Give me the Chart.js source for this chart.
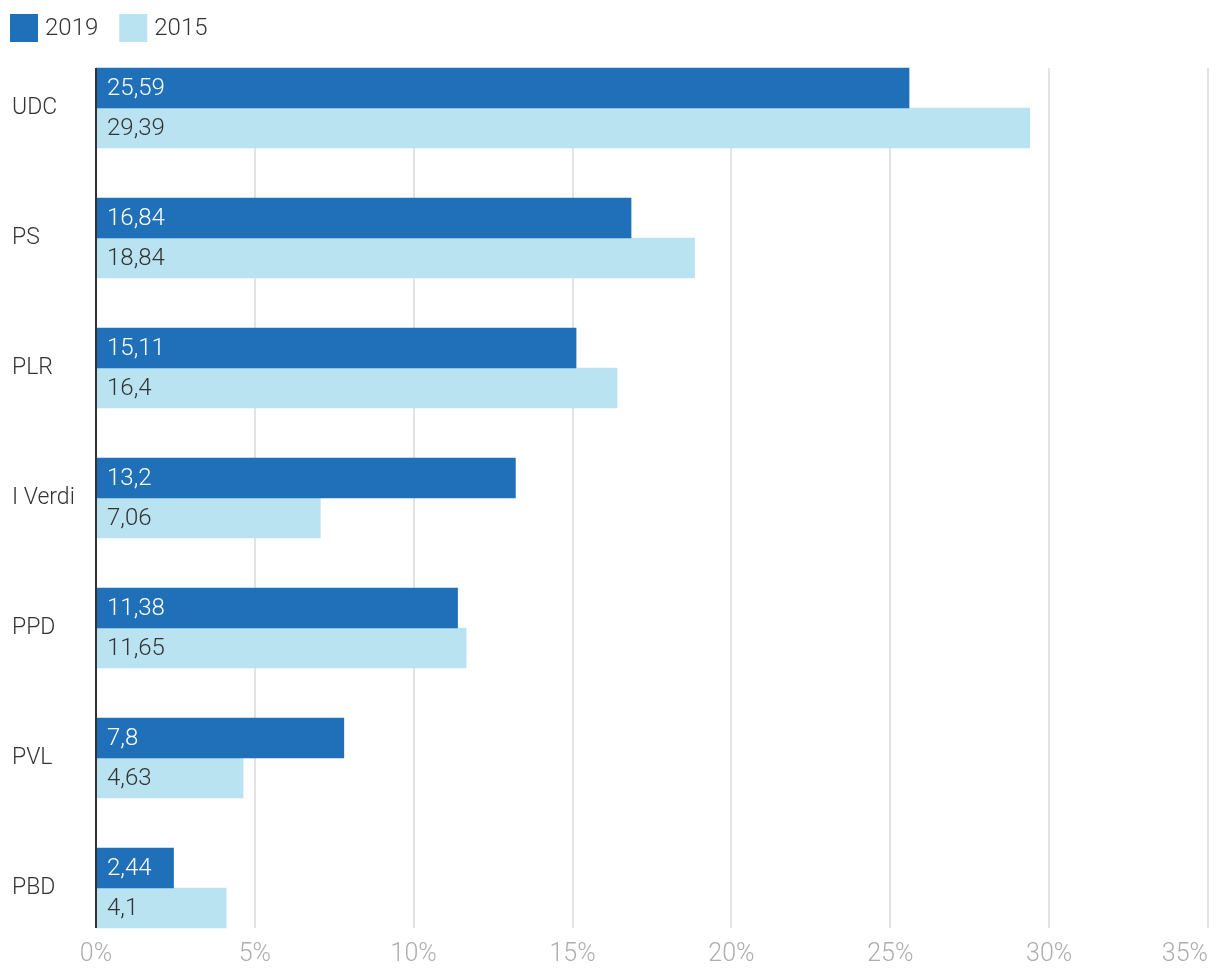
<!DOCTYPE html>
<html><head><meta charset="utf-8">
<script src="https://cdn.jsdelivr.net/npm/chart.js@4"></script>
<style>html,body{margin:0;padding:0;background:#fff;overflow:hidden;}</style>
</head><body>
<canvas id="c" width="1220" height="978"></canvas>
<script>
const categories = ['UDC', 'PS', 'PLR', 'I Verdi', 'PPD', 'PVL', 'PBD'];
const seriesNames = ['2019', '2015'];
const values2019 = [25.59, 16.84, 15.11, 13.2, 11.38, 7.8, 2.44];
const values2015 = [29.39, 18.84, 16.4, 7.06, 11.65, 4.63, 4.1];
const xTicks = [0, 5, 10, 15, 20, 25, 30, 35];
const xTickLabels = ['0%', '5%', '10%', '15%', '20%', '25%', '30%', '35%'];

const FONT = 'Roboto';
const DARK = '#1F70B8';
const LIGHT = '#BAE3F1';

const decor = {
  id: 'decor',
  beforeDatasetsDraw(chart) {
    const ctx = chart.ctx, xs = chart.scales.x, ys = chart.scales.y;
    const top = ys.getPixelForValue(0) - 40;
    const bottom = ys.getPixelForValue(categories.length - 1) + 40;
    ctx.save();
    ctx.strokeStyle = '#E3E3E3';
    ctx.lineWidth = 2;
    xTicks.forEach(v => {
      if (v === 0) return;
      const x = Math.round(xs.getPixelForValue(v));
      ctx.beginPath(); ctx.moveTo(x, top); ctx.lineTo(x, bottom); ctx.stroke();
    });
    ctx.restore();
  },
  afterDatasetsDraw(chart) {
    const ctx = chart.ctx, xs = chart.scales.x, ys = chart.scales.y;
    const top = ys.getPixelForValue(0) - 40;
    const bottom = ys.getPixelForValue(categories.length - 1) + 40;
    ctx.save();
    // data labels
    ctx.font = '300 24px ' + FONT;
    ctx.textBaseline = 'middle';
    ctx.textAlign = 'left';
    chart.data.datasets.forEach((ds, di) => {
      const meta = chart.getDatasetMeta(di);
      meta.data.forEach((bar, i) => {
        ctx.fillStyle = di === 0 ? '#FFFFFF' : '#333333';
        ctx.fillText(String(ds.data[i]).replace('.', ','), bar.base + 11, bar.y + 1);
      });
    });
    // y axis line
    ctx.strokeStyle = '#333333';
    ctx.lineWidth = 2;
    const x0 = Math.round(xs.getPixelForValue(0));
    ctx.beginPath(); ctx.moveTo(x0, top); ctx.lineTo(x0, bottom); ctx.stroke();
    // x tick labels
    ctx.font = '300 25px ' + FONT;
    ctx.fillStyle = '#AEAEAE';
    ctx.textBaseline = 'middle';
    xTicks.forEach((v, i) => {
      const x = xs.getPixelForValue(v);
      ctx.textAlign = i === xTicks.length - 1 ? 'right' : 'center';
      ctx.fillText(xTickLabels[i], x, 955);
    });
    // legend
    ctx.font = '300 24px ' + FONT;
    ctx.textAlign = 'left';
    ctx.textBaseline = 'middle';
    let lx = 10;
    chart.data.datasets.forEach(ds => {
      ctx.fillStyle = ds.backgroundColor;
      ctx.fillRect(lx, 14, 28, 28);
      ctx.fillStyle = '#333333';
      ctx.fillText(ds.label, lx + 35, 29);
      lx += 35 + ctx.measureText(ds.label).width + 21;
    });
    ctx.restore();
  }
};

function build() {
  new Chart(document.getElementById('c'), {
    type: 'bar',
    data: {
      labels: categories,
      datasets: [
        { label: seriesNames[0], data: values2019, backgroundColor: DARK, borderWidth: 0, barThickness: 40 },
        { label: seriesNames[1], data: values2015, backgroundColor: LIGHT, borderWidth: 0, barThickness: 40 }
      ]
    },
    options: {
      indexAxis: 'y',
      responsive: false,
      animation: false,
      devicePixelRatio: 1,
      layout: { padding: { left: 12, right: 12, top: 43, bottom: 0 } },
      plugins: {
        legend: { display: false },
        tooltip: { enabled: false }
      },
      scales: {
        x: {
          type: 'linear', min: 0, max: 35,
          grid: { display: false },
          border: { display: false },
          ticks: { display: false, stepSize: 5 },
          afterFit(s) { s.height = 25; }
        },
        y: {
          grid: { display: false },
          border: { display: false },
          ticks: {
            crossAlign: 'far',
            color: '#333333',
            font: { family: FONT, weight: '300', size: 23 }
          },
          afterFit(s) { s.width = 84; }
        }
      }
    },
    plugins: [decor]
  });
}
document.fonts.load('300 22px Roboto').then(build, build);
</script>
</body></html>
